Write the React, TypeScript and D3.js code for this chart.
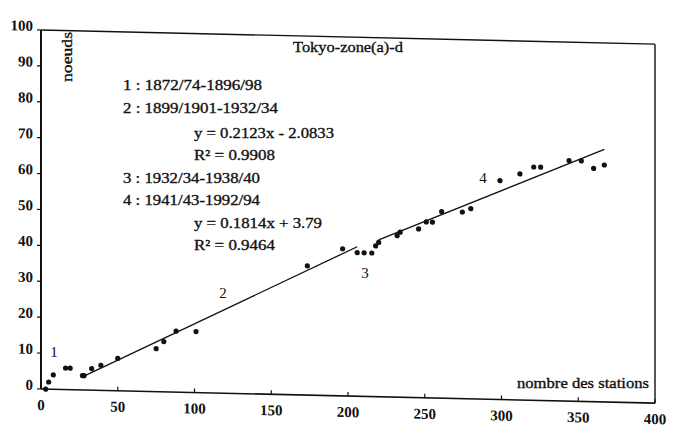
import React from 'react';
import * as d3 from 'd3';

// ---- data ----
const stations = [3, 5, 8, 16, 19, 27, 28, 33, 39, 50, 75, 80, 88, 101, 173.5, 196.5,
  206, 210.5, 215.5, 218, 220, 232, 234, 246, 251, 255, 261, 274.5, 280,
  299, 312, 321, 325.5, 344, 352, 360, 367];
const nodes = [0, 2, 4, 6, 6, 4, 4, 6, 7, 9, 12, 14, 17, 17, 36, 41,
  40, 40, 40, 42, 43, 45, 46, 47, 49, 49, 52, 52, 53,
  61, 63, 65, 65, 67, 67, 65, 66];

const fitSlopes = [0.2123, 0.1814];
const fitIntercepts = [-2.0833, 3.79];
const fitFrom = [28, 220];
const fitTo = [206, 367];

const xTicks = [0, 50, 100, 150, 200, 250, 300, 350, 400];
const yTicks = [0, 10, 20, 30, 40, 50, 60, 70, 80, 90, 100];

const chartTitle = 'Tokyo-zone(a)-d';
const yTitle = 'noeuds';
const xTitle = 'nombre des stations';
const periodLines = [
  '1 : 1872/74-1896/98',
  '2 : 1899/1901-1932/34',
  'y = 0.2123x - 2.0833',
  'R² = 0.9908',
  '3 : 1932/34-1938/40',
  '4 : 1941/43-1992/94',
  'y = 0.1814x + 3.79',
  'R² = 0.9464',
];
const segmentLabels = ['1', '2', '3', '4'];

// ---- layout ----
const W = 680;
const H = 432;
const left = 41;
const right = 655;
const top = 30;
const bottom = 389;
const FONT = 'Liberation Serif';
const shearK = 0.023;
const ink = '#111';

export default function App() {
  const x = d3.scaleLinear().domain([0, 400]).range([left, right]);
  const y = d3.scaleLinear().domain([0, 100]).range([bottom, top]);
  const shearDeg = (Math.atan(shearK) * 180) / Math.PI;

  const fitLines = fitSlopes.map((m, i) => {
    const pts: [number, number][] = [fitFrom[i], fitTo[i]].map((v) => [v, m * v + fitIntercepts[i]]);
    const gen = d3.line<[number, number]>().x((d) => x(d[0])).y((d) => y(d[1]));
    return gen(pts) || '';
  });

  const legendX = [123, 123, 194, 194, 123, 123, 194, 194];
  const legendY = [90, 113, 138, 160, 183, 205, 228, 250];
  const legendW = [139, 155, 140, 81, 137, 137, 128, 81];
  const segX = [54, 223, 365, 483];
  const segY = [357, 298, 278, 183];
  const tf = { fontFamily: FONT };
  const heavy = { stroke: ink, strokeWidth: 0.35 };

  return (
    <svg width={W} height={H} style={{ position: 'absolute', left: 0, top: 0, background: '#fff', fontFamily: FONT }}>
      <rect x={0} y={0} width={W} height={H} fill="#fff" />
      <g transform={`translate(0, ${-shearK * left}) skewY(${shearDeg})`}>
        <line x1={left} x2={right} y1={top} y2={top} stroke={ink} strokeWidth={1.4} />
        <line x1={right} x2={right} y1={top} y2={bottom} stroke={ink} strokeWidth={1.4} />
        <line x1={left} x2={right} y1={bottom} y2={bottom} stroke={ink} strokeWidth={1.6} />
        <line x1={left} x2={left} y1={top} y2={bottom} stroke={ink} strokeWidth={2} />
        {yTicks.map((t) => (
          <g key={'y' + t}>
            <line x1={left - 4} x2={left} y1={y(t)} y2={y(t)} stroke={ink} strokeWidth={1.2} />
            <text x={33} y={y(t) + 1} textAnchor="end" fontSize={15} fontWeight="bold" fill={ink} style={tf}>{t}</text>
          </g>
        ))}
        {xTicks.map((t) => (
          <g key={'x' + t}>
            <line x1={x(t)} x2={x(t)} y1={bottom} y2={bottom - 4} stroke={ink} strokeWidth={1.2} />
            <text x={x(t)} y={bottom + 21} textAnchor="middle" fontSize={15} fontWeight="bold" fill={ink} style={tf}>{t}</text>
          </g>
        ))}
        {fitLines.map((d, i) => (
          <path key={'f' + i} d={d} fill="none" stroke={ink} strokeWidth={1.3} />
        ))}
        {stations.map((s, i) => (
          <circle key={'p' + i} cx={x(s)} cy={y(nodes[i])} r={2.6} fill={ink} />
        ))}
      </g>
      <text x={293} y={52} fontSize={15} fill={ink} style={{ ...tf, ...heavy }} textLength={110} lengthAdjust="spacingAndGlyphs">{chartTitle}</text>
      <text transform="translate(72, 82) rotate(-90)" fontSize={15} fill={ink} style={{ ...tf, ...heavy }} textLength={50}
        lengthAdjust="spacingAndGlyphs">{yTitle}</text>
      <text x={517} y={388} fontSize={15} fill={ink} style={{ ...tf, ...heavy }} textLength={132} lengthAdjust="spacingAndGlyphs">{xTitle}</text>
      {periodLines.map((s, i) => (
        <text key={'l' + i} x={legendX[i]} y={legendY[i]} fontSize={15} fill={ink} style={{ ...tf, ...heavy }}
          textLength={legendW[i]} lengthAdjust="spacingAndGlyphs">{s}</text>
      ))}
      {segmentLabels.map((s, i) => (
        <text key={'s' + i} x={segX[i]} y={segY[i]} fontSize={15} textAnchor="middle" fill={ink} style={tf}>{s}</text>
      ))}
    </svg>
  );
}
